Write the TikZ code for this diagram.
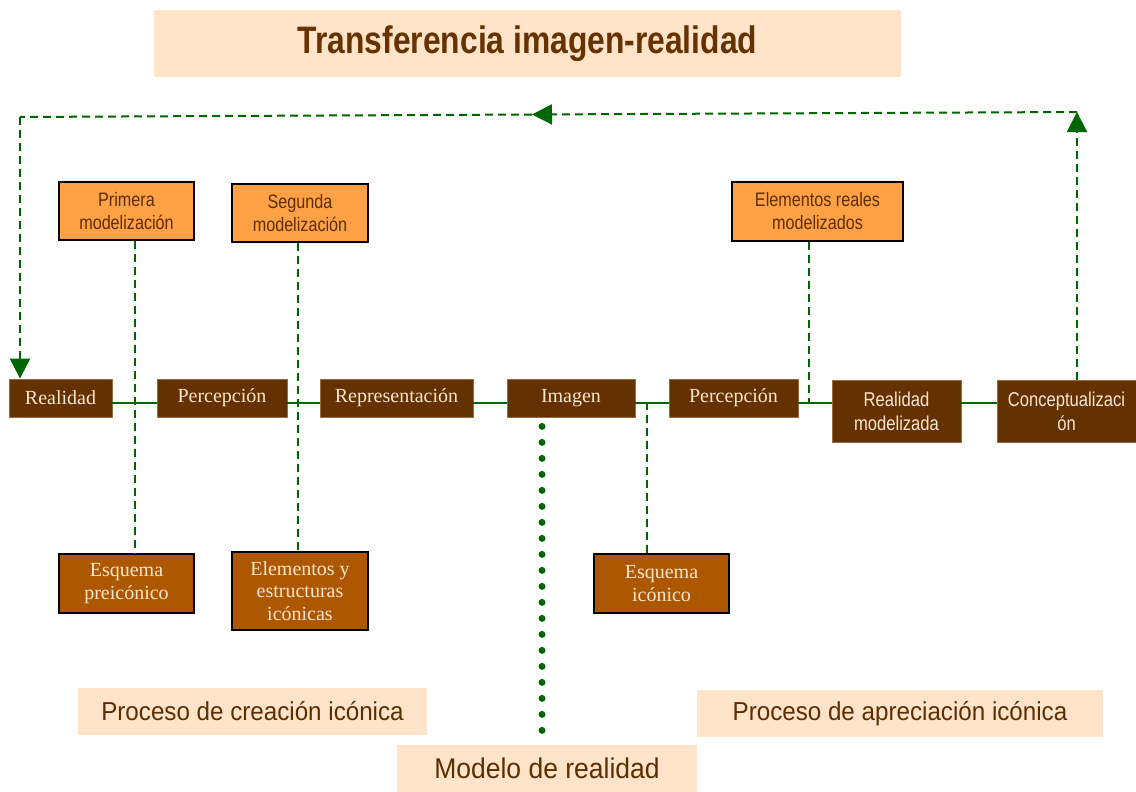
\documentclass[tikz,border=0pt]{standalone}
\usepackage{fontspec}
\setmainfont{Liberation Serif}
\newfontfamily\nsans[FakeStretch=0.83]{Liberation Sans}
\newfontfamily\lsans[FakeStretch=0.93]{Liberation Sans}
\usetikzlibrary{arrows.meta,calc}
\definecolor{bandc}{HTML}{FFE4CA}
\definecolor{titlec}{HTML}{663300}
\definecolor{mainfill}{HTML}{633200}
\definecolor{mainedge}{HTML}{9A6A40}
\definecolor{boxtext}{HTML}{FBE5D0}
\definecolor{orangec}{HTML}{FFA144}
\definecolor{otext}{HTML}{5C2E00}
\definecolor{botfill}{HTML}{AD5800}
\definecolor{greenc}{HTML}{006600}
\tikzset{
  mainbox/.style={rectangle, fill=mainfill, draw=mainedge, line width=0.8pt, inner sep=0pt,
    text=boxtext, font=\fontsize{20}{24}\selectfont, align=center},
  mainsans/.style={mainbox, font=\nsans\fontsize{20}{24}\selectfont},
  topbox/.style={rectangle, fill=orangec, draw=black, line width=1.6pt, inner sep=0pt,
    text=otext, font=\nsans\fontsize{19.5}{23}\selectfont, align=center},
  botbox/.style={rectangle, fill=botfill, draw=black, line width=1.6pt, inner sep=0pt,
    text=boxtext, font=\fontsize{20}{22.5}\selectfont, align=center},
  bandbox/.style={rectangle, fill=bandc, inner sep=0pt, text=otext,
    font=\lsans\fontsize{26}{30}\selectfont},
  conn/.style={draw=greenc, line width=1.8pt},
  dashconn/.style={conn, line width=2pt, dash pattern=on 8pt off 5pt},
  tip/.style={-{Triangle[length=20pt,width=20pt]}},
}
\begin{document}
\begin{tikzpicture}[x=1pt,y=-1pt]
\useasboundingbox (0,0) rectangle (1136,792);
% title and labels
\node[bandbox, minimum width=747pt, minimum height=67pt, text=titlec,
  font=\nsans\bfseries\fontsize{38.3}{42}\selectfont] (title) at (527.5,43.5) {Transferencia imagen-realidad};
\node[bandbox, minimum width=349pt, minimum height=47pt] (lab1) at (252.5,711.5) {Proceso de creación icónica};
\node[bandbox, minimum width=406pt, minimum height=47pt] (lab2) at (900,713.5) {Proceso de apreciación icónica};
\node[bandbox, minimum width=300pt, minimum height=47pt, font=\lsans\fontsize{28.5}{32}\selectfont] (lab3) at (547,768.5) {Modelo de realidad};
% main chain
\node[mainbox, minimum width=103pt, minimum height=38pt] (real) at (60.5,398) {Realidad};
\node[mainbox, minimum width=130pt, minimum height=38pt] (perc1) at (222,398) {Percepción};
\node[mainbox, minimum width=153pt, minimum height=38pt] (repr) at (396.5,398) {Representación};
\node[mainbox, minimum width=128pt, minimum height=38pt] (imag) at (571,398) {Imagen};
\node[mainbox, minimum width=129pt, minimum height=38pt] (perc2) at (733.5,398) {Percepción};
\node[mainsans, minimum width=129pt, minimum height=62pt] (rmod) at (896.5,411) {Realidad\\modelizada};
\node[mainsans, minimum width=139pt, minimum height=62pt] (conc) at (1066.5,411) {Conceptualizaci\\ón};
% top boxes
\node[topbox, minimum width=135pt, minimum height=58pt] (prim) at (126.5,211) {Primera\\modelización};
\node[topbox, minimum width=136pt, minimum height=58pt] (seg) at (300,213) {Segunda\\modelización};
\node[topbox, minimum width=171pt, minimum height=59pt] (elreal) at (817.5,211.5) {Elementos reales\\modelizados};
% bottom boxes
\node[botbox, minimum width=135pt, minimum height=59pt] (esqp) at (126.5,583.5) {Esquema\\preicónico};
\node[botbox, minimum width=136pt, minimum height=78pt] (elest) at (300,591) {Elementos y\\estructuras\\icónicas};
\node[botbox, minimum width=135pt, minimum height=59pt] (esqi) at (661.5,583.5) {Esquema\\icónico};
% helper coordinates
\coordinate (ml) at (0,403);
\coordinate (c1) at (135,0);
\coordinate (c2) at (298,0);
\coordinate (c3) at (809,0);
\coordinate (c4) at (647,0);
\coordinate (c5) at (542,0);
\coordinate (tr) at (1077,112);
\coordinate (mid) at (532,114.5);
\coordinate (tl) at (20,117);
% main line
\draw[conn] (real.east |- ml) -- (perc1.west |- ml);
\draw[conn] (perc1.east |- ml) -- (repr.west |- ml);
\draw[conn] (repr.east |- ml) -- (imag.west |- ml);
\draw[conn] (imag.east |- ml) -- (perc2.west |- ml);
\draw[conn] (perc2.east |- ml) -- (rmod.west |- ml);
\draw[conn] (rmod.east |- ml) -- (conc.west |- ml);
% dashed verticals
\draw[dashconn] (prim.south -| c1) -- (esqp.north -| c1);
\draw[dashconn] (seg.south -| c2) -- (elest.north -| c2);
\draw[dashconn] (elreal.south -| c3) -- (c3 |- ml);
\draw[dashconn] (esqi.north -| c4) -- (c4 |- ml);
% feedback loop
\draw[dashconn, tip] (conc.north -| tr) -- (tr);
\draw[dashconn, tip] (tr) -- (mid);
\draw[dashconn] (mid) -- (tl);
\draw[dashconn, tip] (tl) -- (real.north -| tl);
% dotted model line
\draw[greenc, line width=7pt, line cap=round, dash pattern=on 0pt off 16pt]
  ($(c5 |- imag.south)+(0,9)$) -- ($(c5 |- imag.south)+(0,315)$);
\end{tikzpicture}
\end{document}
